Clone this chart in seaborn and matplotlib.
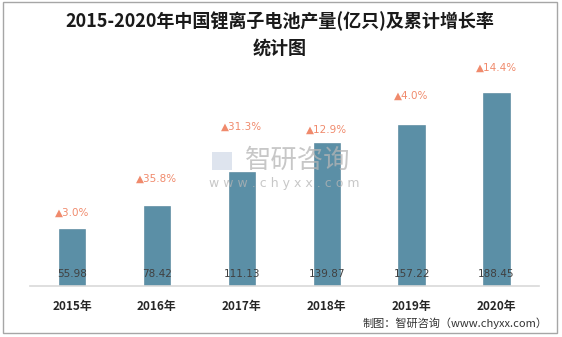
import matplotlib
matplotlib.use("Agg")
import matplotlib.pyplot as plt
import seaborn as sns
import pandas as pd
from matplotlib.patches import Rectangle

years = ["2015年", "2016年", "2017年", "2018年", "2019年", "2020年"]
output = [55.98, 78.42, 111.13, 139.87, 157.22, 188.45]
growth_labels = ["▲3.0%", "▲35.8%", "▲31.3%", "▲12.9%", "▲4.0%", "▲14.4%"]
growth_label_y = [71.5, 105, 156, 153, 186, 213]

sns.set_theme(style="white")
plt.rcParams['font.family'] = ['Noto Sans CJK SC', 'DejaVu Sans']

df = pd.DataFrame({"year": years, "output": output})

fig = plt.figure(figsize=(5.62, 3.37), dpi=100)
ax = fig.add_axes([29.5 / 562, 51 / 337, 509.5 / 562, 225 / 337])

sns.barplot(data=df, x="year", y="output", color="#5b8fa6", saturation=1,
            width=0.31, ax=ax)
ax.set_ylim(0, 220)
ax.set_xlim(-0.5, 5.5)
for p in ax.patches:
    p.set_edgecolor("#4f8198")
    p.set_linewidth(0.4)

for i, v in enumerate(output):
    ax.text(i, 12, f"{v:.2f}", ha="center", va="center", fontsize=7.5,
            color="#404040", family=["DejaVu Sans"])
    ax.text(i, growth_label_y[i], growth_labels[i], ha="center", va="center",
            fontsize=7.5, color="#f08a6c", family=["DejaVu Sans"])

ax.set_xlabel("")
ax.set_ylabel("")
ax.set_yticks([])
for s in ["top", "right", "left"]:
    ax.spines[s].set_visible(False)
ax.spines["bottom"].set_color("#d9d9d9")
ax.spines["bottom"].set_linewidth(1.2)
ax.tick_params(axis="x", length=0, pad=10)
for lab in ax.get_xticklabels():
    lab.set_fontsize(8.5)
    lab.set_fontweight("bold")
    lab.set_color("#262626")

fig.text(280 / 562, 1 - 21 / 337, "2015-2020年中国锂离子电池产量(亿只)及累计增长率",
         ha="center", va="center", fontsize=13, fontweight="bold", color="#1a1a1a")
fig.text(280 / 562, 1 - 48 / 337, "统计图", ha="center", va="center",
         fontsize=13, fontweight="bold", color="#1a1a1a")

# watermark
fig.patches.append(Rectangle((212 / 562, 1 - 170 / 337), 20 / 562, 18 / 337,
                             transform=fig.transFigure, facecolor="#c8d3e3",
                             alpha=0.6, edgecolor="none"))
fig.text(298 / 562, 1 - 160 / 337, "智研咨询", ha="center", va="center",
         fontsize=19, color="#b5b5b5", alpha=0.75)
fig.text(284 / 562, 1 - 183 / 337, "w w w . c h y x x . c o m", ha="center",
         va="center", fontsize=9, color="#b5b5b5", alpha=0.75,
         family=["DejaVu Sans"])

fig.text(548 / 562, 1 - 323 / 337, "制图：智研咨询（www.chyxx.com）",
         ha="right", va="center", fontsize=8, color="#333333")

fig.patches.append(Rectangle((3 / 562, 4 / 337), 554 / 562, 331 / 337,
                             transform=fig.transFigure, fill=False,
                             edgecolor="#a6a6a6", linewidth=1))

fig.savefig("out.png", dpi=100)
